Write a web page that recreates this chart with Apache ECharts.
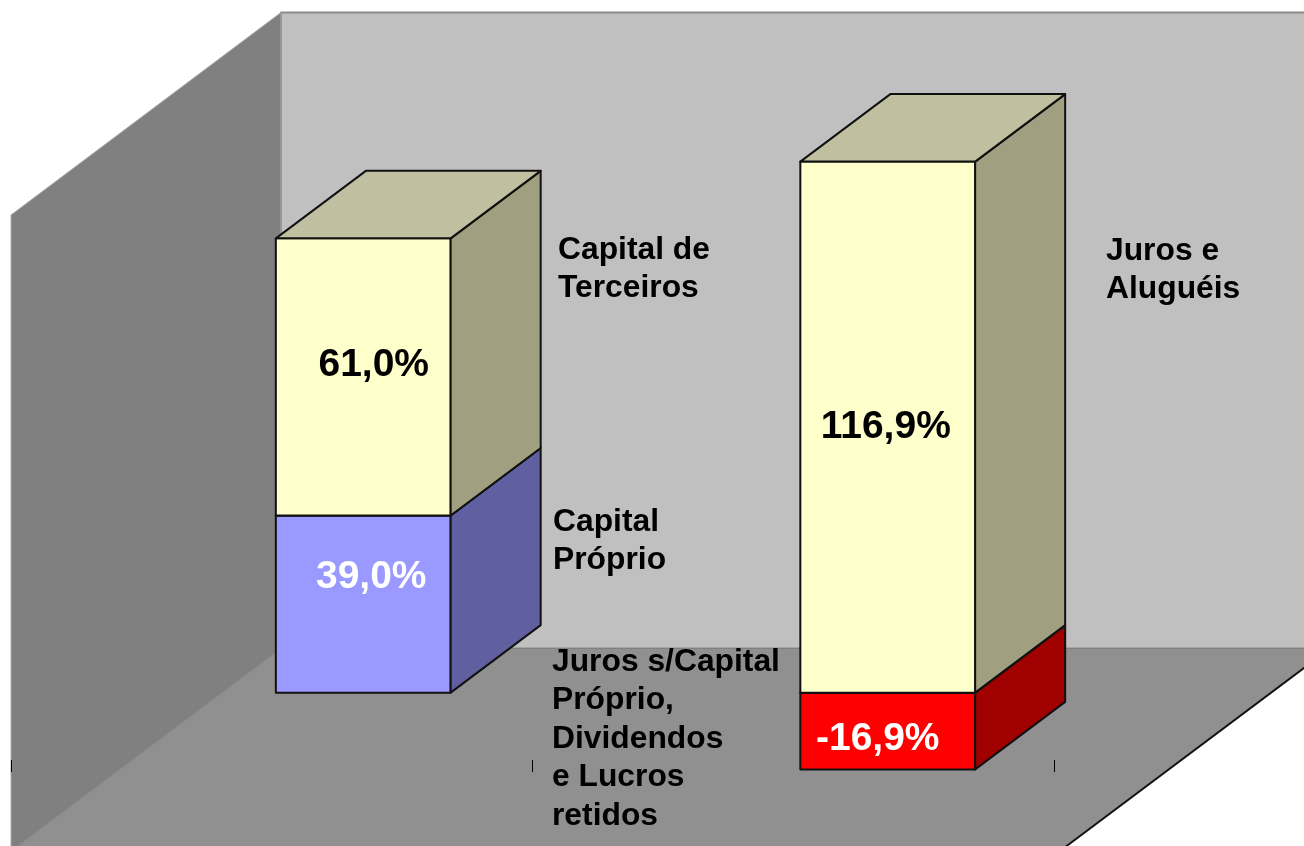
<!DOCTYPE html>
<html>
<head>
<meta charset="utf-8">
<style>
  html, body { margin: 0; padding: 0; background: #fff; overflow: hidden; }
  /* the floor of the box runs a little past the bottom of the window */
  #chart { width: 1304px; height: 860px; }
</style>
</head>
<body>
<div id="chart"></div>
<script src="https://cdn.jsdelivr.net/npm/echarts@6/dist/echarts.min.js"></script>
<script>
// two columns, the category names are not printed in the picture
const categories = ["Passivo", "Resultado"];
const upperValues = [61.0, 116.9];
const lowerValues = [39.0, -16.9];
const axisMin = -20;
const axisMax = 120;

const sideTexts = [
  "Capital de\nTerceiros",
  "Capital\nPróprio",
  "Juros e\nAluguéis",
  "Juros s/Capital\nPróprio,\nDividendos\ne Lucros\nretidos"
];

// layout, kept apart from the data
const sideTextPos = [[558, 231], [553, 503], [1106, 232], [552, 643]];
const depthX = 270;
const depthY = 202.5;
const labelNudge = {
  upper: [[10.5, -11.5], [-2, 0]],
  lower: [[8, -26.5], [-10, 8]]
};
const FONT = '"Liberation Sans", Arial, sans-serif';

const upperStyle = { face: ["#FFFFCC", "#FFFFCC"], side: ["#A0A080", "#A0A080"], top: ["#C0C0A0", "#C0C0A0"], text: ["#000", "#000"] };
const lowerStyle = { face: ["#9999FF", "#FF0000"], side: ["#6060A0", "#A00000"], top: ["#8080C0", "#A00000"], text: ["#fff", "#fff"] };

function polygon(points, fill, stroke, width) {
  return {
    type: "polygon",
    shape: { points: points },
    style: { fill: fill, stroke: stroke || null, lineWidth: width || 0, lineJoin: "round" }
  };
}

function renderWalls(params, api) {
  const left = api.coord([0, axisMax])[0] - api.size([1, 0])[0] / 2;
  const right = api.coord([1, axisMax])[0] + api.size([1, 0])[0] / 2;
  const top = api.coord([0, axisMax])[1];
  const bottom = api.coord([0, axisMin])[1];
  return {
    type: "group",
    children: [
      polygon([[left + depthX, top - depthY], [right + depthX, top - depthY], [right + depthX, bottom - depthY], [left + depthX, bottom - depthY]], "#C0C0C0", "#8A8A8A", 2),
      polygon([[left, top], [left + depthX, top - depthY], [left + depthX, bottom - depthY], [left, bottom]], "#808080", "#A8A8A8", 1),
      polygon([[left, bottom], [left + depthX, bottom - depthY], [right + depthX, bottom - depthY], [right, bottom]], "#909090", "#808080", 1),
      {
        type: "line",
        shape: { x1: right, y1: bottom, x2: right + depthX, y2: bottom - depthY },
        style: { stroke: "#111", lineWidth: 2 }
      }
    ]
  };
}

function makeBarRenderer(style, nudges) {
  return function (params, api) {
    const i = params.dataIndex;
    const band = api.size([1, 0])[0];
    const dx = depthX / 3;
    const dy = depthY / 3;
    const width = band / 3;
    const from = api.coord([i, api.value(2)]);
    const to = api.coord([i, api.value(3)]);
    const x0 = from[0] - width / 2 + dx;
    const x1 = x0 + width;
    const yLow = Math.max(from[1], to[1]) - dy;
    const yHigh = Math.min(from[1], to[1]) - dy;
    const value = api.value(1);
    return {
      type: "group",
      children: [
        polygon([[x0, yLow], [x1, yLow], [x1, yHigh], [x0, yHigh]], style.face[i], "#111", 2),
        polygon([[x1, yLow], [x1 + dx, yLow - dy], [x1 + dx, yHigh - dy], [x1, yHigh]], style.side[i], "#111", 2),
        polygon([[x0, yHigh], [x1, yHigh], [x1 + dx, yHigh - dy], [x0 + dx, yHigh - dy]], style.top[i], "#111", 2),
        {
          type: "text",
          x: (x0 + x1) / 2 + nudges[i][0],
          y: (yLow + yHigh) / 2 + nudges[i][1],
          style: {
            text: value.toFixed(1).replace(".", ",") + "%",
            fill: style.text[i],
            font: "bold 39px " + FONT,
            align: "center",
            verticalAlign: "middle"
          }
        }
      ]
    };
  };
}

// lower part starts at zero, upper part sits on it when both are positive
const lowerData = lowerValues.map((v, i) => [i, v, 0, v]);
const upperData = upperValues.map((v, i) => {
  const base = lowerValues[i] > 0 ? lowerValues[i] : 0;
  return [i, v, base, base + v];
});

const chart = echarts.init(document.getElementById("chart"));
chart.setOption({
  animation: false,
  backgroundColor: "#fff",
  // grid 0 holds the box and the bars, grid 1 only the tick marks
  grid: [
    { left: 11, top: 215, width: 1049, height: 636 },
    { left: 11, top: 215, width: 1043, height: 636 }
  ],
  xAxis: [
    { type: "category", gridIndex: 0, data: categories, show: false },
    {
      type: "category",
      gridIndex: 1,
      data: categories,
      z: 3,
      axisLine: { show: false, onZero: true },
      axisLabel: { show: false },
      axisTick: { show: true, length: 12, lineStyle: { color: "#000", width: 1 } }
    }
  ],
  yAxis: [
    { type: "value", gridIndex: 0, min: axisMin, max: axisMax, show: false },
    { type: "value", gridIndex: 1, min: axisMin, max: axisMax, show: false }
  ],
  series: [
    {
      type: "custom",
      name: "walls",
      z: 1,
      silent: true,
      xAxisIndex: 0,
      yAxisIndex: 0,
      data: [[0, 0]],
      renderItem: renderWalls
    },
    {
      type: "custom",
      name: "Capital Próprio / Juros s/Capital",
      z: 4,
      xAxisIndex: 0,
      yAxisIndex: 0,
      data: lowerData,
      renderItem: makeBarRenderer(lowerStyle, labelNudge.lower)
    },
    {
      type: "custom",
      name: "Capital de Terceiros / Juros e Aluguéis",
      z: 5,
      xAxisIndex: 0,
      yAxisIndex: 0,
      data: upperData,
      renderItem: makeBarRenderer(upperStyle, labelNudge.upper)
    }
  ],
  graphic: sideTexts.map((t, i) => ({
    type: "text",
    z: 10,
    x: sideTextPos[i][0],
    y: sideTextPos[i][1],
    style: {
      text: t,
      fill: "#000",
      font: "bold 31.8px " + FONT,
      lineHeight: 38.4
    }
  }))
});
</script>
</body>
</html>
